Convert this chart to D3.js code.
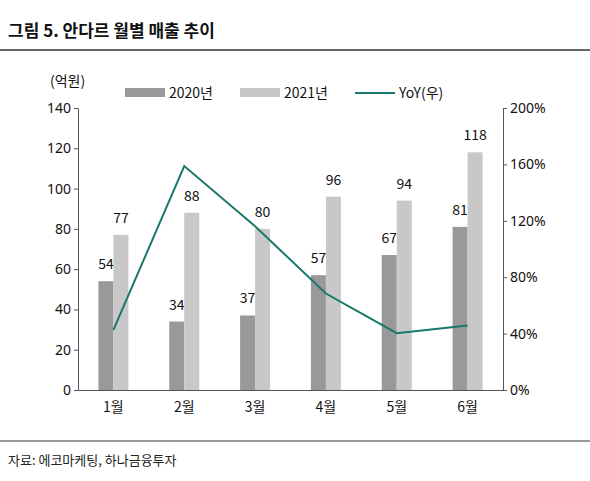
<!DOCTYPE html>
<html><head><meta charset="utf-8">
<script src="https://cdn.jsdelivr.net/npm/d3@7"></script>
<style>body{margin:0;background:#fff;font-family:"Noto Sans CJK KR","Noto Sans",sans-serif;}</style>
</head><body><div id="chart"></div>
<script>
const months = ["1월","2월","3월","4월","5월","6월"];
const sales2020 = [54, 34, 37, 57, 67, 81];
const sales2021 = [77, 88, 80, 96, 94, 118];
const yoy = [42.6, 158.8, 116.2, 68.4, 40.3, 45.7];
const leftTicks = [0,20,40,60,80,100,120,140];
const rightTicks = [0,40,80,120,160,200];

const width = 590, height = 481;
const margin = {top: 108, right: 87, bottom: 91, left: 78};
const svg = d3.select("#chart").append("svg").attr("width", width).attr("height", height);

svg.append("text").attr("x", 8).attr("y", 37).attr("font-size", 17).attr("font-weight", "bold").attr("fill", "#111")
  .text("그림 5. 안다르 월별 매출 추이");
svg.append("line").attr("x1", 0).attr("x2", width).attr("y1", 50).attr("y2", 50).attr("stroke", "#333").attr("stroke-width", 1.5);
svg.append("line").attr("x1", 0).attr("x2", width).attr("y1", 441).attr("y2", 441).attr("stroke", "#333").attr("stroke-width", 1);
svg.append("text").attr("x", 8).attr("y", 465).attr("font-size", 13).attr("fill", "#222").text("자료: 에코마케팅, 하나금융투자");

const x = d3.scaleBand().domain(months).range([margin.left, width - margin.right]);
const y = d3.scaleLinear().domain([0, 140]).range([height - margin.bottom, margin.top]);
const y2 = d3.scaleLinear().domain([0, 200]).range([height - margin.bottom, margin.top]);

const axisFont = g => g.selectAll("text").attr("font-size", 14).attr("fill", "#111").attr("font-family", "Noto Sans, sans-serif");

svg.append("g").attr("transform", `translate(${margin.left},0)`)
  .call(d3.axisLeft(y).tickValues(leftTicks).tickSize(4).tickSizeOuter(0))
  .call(axisFont).call(g => g.selectAll("line,path").attr("stroke", "#555"));
svg.append("g").attr("transform", `translate(${width - margin.right},0)`)
  .call(d3.axisRight(y2).tickValues(rightTicks).tickFormat(d => d + "%").tickSize(4).tickSizeOuter(0))
  .call(axisFont).call(g => g.selectAll("line,path").attr("stroke", "#555"));
svg.append("g").attr("transform", `translate(0,${height - margin.bottom})`)
  .call(d3.axisBottom(x).tickSize(0).tickPadding(12))
  .call(axisFont).call(g => g.selectAll("path").attr("stroke", "#555"))
  .call(g => g.selectAll("text").attr("font-family", "Noto Sans CJK KR"));

svg.append("text").attr("x", 50).attr("y", 86).attr("font-size", 14).attr("fill", "#111").text("(억원)");

const bw = 15;
const c = m => x(m) + x.bandwidth() / 2;
const bars = [[sales2020, "#999999", -bw], [sales2021, "#c8c8c8", 0]];
bars.forEach(([vals, col, off]) => {
  svg.append("g").selectAll("rect").data(vals).join("rect")
    .attr("x", (d, i) => c(months[i]) + off).attr("width", bw)
    .attr("y", d => y(d)).attr("height", d => y(0) - y(d)).attr("fill", col);
  svg.append("g").selectAll("text").data(vals).join("text")
    .attr("x", (d, i) => c(months[i]) + off + bw / 2).attr("y", d => y(d) - 12)
    .attr("text-anchor", "middle").attr("font-size", 14).attr("fill", "#111").text(d => d);
});

const line = d3.line().x((d, i) => c(months[i])).y(d => y2(d));
svg.append("path").datum(yoy).attr("d", line).attr("fill", "none").attr("stroke", "#17786b").attr("stroke-width", 2);

const legend = [["rect", "#999999", 125, "2020년"], ["rect", "#c8c8c8", 240, "2021년"], ["line", "#17786b", 355, "YoY(우)"]];
legend.forEach(([t, col, lx, lab]) => {
  if (t === "rect") svg.append("rect").attr("x", lx).attr("y", 88).attr("width", 40).attr("height", 9).attr("fill", col);
  else svg.append("line").attr("x1", lx).attr("x2", lx + 40).attr("y1", 93).attr("y2", 93).attr("stroke", col).attr("stroke-width", 2);
  svg.append("text").attr("x", lx + 44).attr("y", 98).attr("font-size", 14).attr("fill", "#111").text(lab);
});
</script></body></html>
